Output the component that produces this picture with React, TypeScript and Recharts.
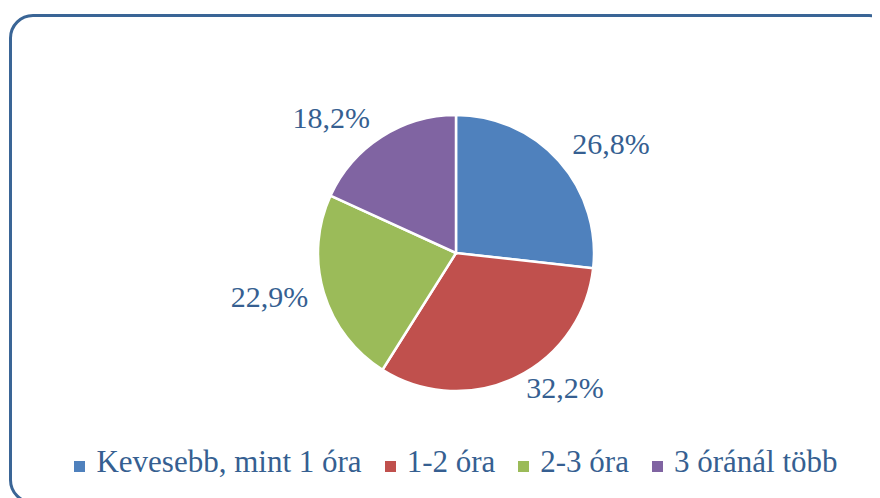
import React from 'react';
import { PieChart, Pie, Cell, Legend } from 'recharts';

const categories = ['Kevesebb, mint 1 óra', '1-2 óra', '2-3 óra', '3 óránál több'];
const shares = [26.8, 32.2, 22.9, 18.2];
const colors = ['#4F81BD', '#C0504D', '#9BBB59', '#8064A2'];

const data = categories.map((name, i) => ({ name, value: shares[i] }));

const TEXT = '#365F91';
const FONT = 'Liberation Serif';
const RADIAN = Math.PI / 180;

const fmt = (v: number) => v.toFixed(1).replace('.', ',') + '%';

// label box corner sits just outside the pie edge on the slice's middle ray
const renderLabel = (props: any) => {
  const { cx, cy, midAngle, outerRadius, value } = props;
  const r = outerRadius + 10;
  const cos = Math.cos(-midAngle * RADIAN);
  const sin = Math.sin(-midAngle * RADIAN);
  const x = cx + r * cos + (cos >= 0 ? 6 : -6);
  const y = cy + r * sin;
  const baseline = sin < 0 ? y : y + 12;
  return (
    <text
      x={x}
      y={baseline}
      textAnchor={cos >= 0 ? 'start' : 'end'}
      fill={TEXT}
      style={{ fontFamily: FONT, fontSize: 30 }}
    >
      {fmt(value)}
    </text>
  );
};

const LegendContent = () => (
  <div
    style={{
      display: 'flex',
      justifyContent: 'center',
      alignItems: 'baseline',
      fontFamily: FONT,
      fontSize: 31,
      color: TEXT,
      lineHeight: '36px',
      whiteSpace: 'nowrap',
    }}
  >
    {categories.map((c, i) => (
      <span key={c} style={{ display: 'flex', alignItems: 'baseline', marginLeft: i === 0 ? 0 : 23 }}>
        <span
          style={{
            display: 'inline-block',
            width: 11,
            height: 11,
            background: colors[i],
            marginRight: 11,
            marginBottom: 6,
          }}
        />
        <span>{c}</span>
      </span>
    ))}
  </div>
);

export default function App() {
  return (
    <div style={{ position: 'relative', width: 872, height: 490, overflow: 'hidden', background: '#fff', fontFamily: FONT }}>
      <div
        style={{
          position: 'absolute',
          left: 1,
          top: 6,
          width: 884,
          height: 490,
          boxSizing: 'border-box',
          border: '3px solid #3A6596',
          borderRadius: 24,
        }}
      />
      <PieChart width={872} height={490} margin={{ top: 0, right: 0, bottom: 0, left: 0 }} style={{ position: 'absolute', left: 0, top: 0 }}>
        <Pie
          data={data}
          dataKey="value"
          nameKey="name"
          cx={448}
          cy={245}
          outerRadius={138}
          startAngle={90}
          endAngle={-270}
          stroke="#fff"
          strokeWidth={2.5}
          label={renderLabel}
          labelLine={false}
          isAnimationActive={false}
        >
          {data.map((d, i) => (
            <Cell key={d.name} fill={colors[i]} />
          ))}
        </Pie>
        <Legend content={<LegendContent />} wrapperStyle={{ top: 436, left: 24, width: 848 }} />
      </PieChart>
    </div>
  );
}
